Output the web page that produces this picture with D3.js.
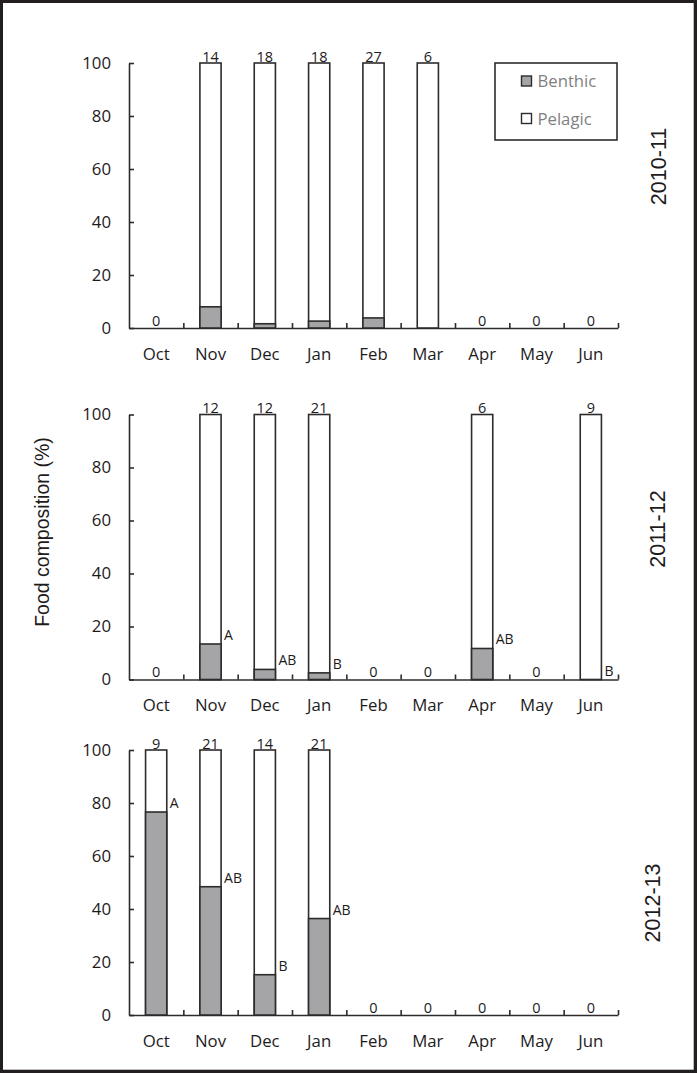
<!DOCTYPE html>
<html>
<head>
<meta charset="utf-8">
<script src="https://cdn.jsdelivr.net/npm/d3@7"></script>
<style>
  html, body { margin: 0; padding: 0; background: #231f20; }
  svg { display: block; }
</style>
</head>
<body>
<svg id="chart" width="697" height="1073"></svg>
<script>
// ---- data ----
const months = ["Oct","Nov","Dec","Jan","Feb","Mar","Apr","May","Jun"];
const seasons = ["2010-11","2011-12","2012-13"];
const yTicks = [0,20,40,60,80,100];
const legendLabels = ["Benthic","Pelagic"];

const benthic2010 = [0, 8, 1.6, 2.6, 3.8, 0, 0, 0, 0];
const n2010       = [0, 14, 18, 18, 27, 6, 0, 0, 0];
const letters2010 = ["", "", "", "", "", "", "", "", ""];

const benthic2011 = [0, 13.4, 3.8, 2.5, 0, 0, 11.7, 0, 0];
const n2011       = [0, 12, 12, 21, 0, 0, 6, 0, 9];
const letters2011 = ["", "A", "AB", "B", "", "", "AB", "", "B"];

const benthic2012 = [76.6, 48.4, 15.2, 36.4, 0, 0, 0, 0, 0];
const n2012       = [9, 21, 14, 21, 0, 0, 0, 0, 0];
const letters2012 = ["A", "AB", "B", "AB", "", "", "", "", ""];

const panelsData = [
  {season: seasons[0], benthic: benthic2010, n: n2010, letters: letters2010},
  {season: seasons[1], benthic: benthic2011, n: n2011, letters: letters2011},
  {season: seasons[2], benthic: benthic2012, n: n2012, letters: letters2012}
];

// ---- layout ----
const W = 697, H = 1073;
const left = 129, right = 618;
const panelTops = [63, 414.5, 750];
const panelH = 265;
const seasonLabelPos = [[666, 166.5], [665, 529], [660, 903]];
const ink = "#2e2b2c";
const txt = "#1e1b1c";
const benthicFill = "#a5a5a8";
const sansUI = "'Open Sans', 'Noto Sans', sans-serif";
const sansArial = "'Liberation Sans', Arial, sans-serif";

const svg = d3.select("#chart");
svg.append("rect").attr("x", 3).attr("y", 3).attr("width", 690).attr("height", 1066).attr("fill", "#fff");
svg.append("line").attr("x1", 693.5).attr("x2", 693.5).attr("y1", 3).attr("y2", 1069.5)
  .attr("stroke", "#bdbdbd").attr("stroke-width", 1);
svg.append("line").attr("x1", 3).attr("x2", 693.5).attr("y1", 1069.5).attr("y2", 1069.5)
  .attr("stroke", "#bdbdbd").attr("stroke-width", 1);

const xBand = d3.scaleBand().domain(months).range([left, right]).padding(0);
const xLin = d3.scaleLinear().domain([0, months.length]).range([left, right]);
const bw = xBand.bandwidth() * 0.39;

panelsData.forEach((p, i) => {
  const top = panelTops[i];
  const y = d3.scaleLinear().domain([0, 100]).range([top + panelH, top]);
  const g = svg.append("g");

  // y axis
  const yAxis = g.append("g").attr("transform", `translate(${left},0)`)
    .call(d3.axisLeft(y).tickValues(yTicks).tickSize(-5).tickSizeOuter(0).tickPadding(18));
  // x axis boundary ticks
  const xAxis = g.append("g").attr("transform", `translate(0,${y(0)})`)
    .call(d3.axisBottom(xLin).tickValues(d3.range(1, months.length + 1)).tickSize(-5).tickSizeOuter(0).tickFormat(""));
  // x category labels
  const xLab = g.append("g").attr("transform", `translate(0,${y(0)})`)
    .call(d3.axisBottom(xBand).tickSize(0).tickPadding(20));
  xLab.select(".domain").remove();

  [yAxis, xAxis].forEach(a => {
    a.selectAll(".domain, .tick line").attr("stroke", ink).attr("stroke-width", 1.6);
  });
  [yAxis, xLab].forEach(a => {
    a.selectAll("text").attr("font-family", sansUI).attr("font-size", 16.8).attr("fill", txt);
  });

  const rows = months.map((m, j) => ({m, b: p.benthic[j], n: p.n[j], letter: p.letters[j]}));
  const present = rows.filter(r => r.n > 0);

  // pelagic (whole bar)
  g.selectAll(".pel").data(present).join("rect")
    .attr("x", d => xBand(d.m) + (xBand.bandwidth() - bw) / 2)
    .attr("width", bw)
    .attr("y", y(100))
    .attr("height", y(0) - y(100))
    .attr("fill", "#fff").attr("stroke", ink).attr("stroke-width", 1.6);
  // benthic
  g.selectAll(".ben").data(present.filter(r => r.b > 0)).join("rect")
    .attr("x", d => xBand(d.m) + (xBand.bandwidth() - bw) / 2)
    .attr("width", bw)
    .attr("y", d => y(d.b))
    .attr("height", d => y(0) - y(d.b))
    .attr("fill", benthicFill).attr("stroke", ink).attr("stroke-width", 1.6);

  // sample sizes
  g.selectAll(".nlab").data(present).join("text")
    .attr("x", d => xBand(d.m) + xBand.bandwidth() / 2)
    .attr("y", y(100) - 1.5)
    .attr("text-anchor", "middle")
    .attr("font-family", sansUI).attr("font-size", 14.5).attr("fill", txt)
    .text(d => d.n);
  // zeros
  g.selectAll(".zlab").data(rows.filter(r => r.n === 0)).join("text")
    .attr("x", d => xBand(d.m) + xBand.bandwidth() / 2)
    .attr("y", y(0) - 2.5)
    .attr("text-anchor", "middle")
    .attr("font-family", sansUI).attr("font-size", 14.5).attr("fill", txt)
    .text(d => d.n);
  // significance letters
  g.selectAll(".let").data(rows.filter(r => r.letter)).join("text")
    .attr("x", d => xBand(d.m) + (xBand.bandwidth() + bw) / 2 + 3)
    .attr("y", d => y(d.b) - 4)
    .attr("font-family", sansUI).attr("font-size", 14).attr("fill", txt)
    .text(d => d.letter);

  // season label
  const [sx, sy] = seasonLabelPos[i];
  g.append("text")
    .attr("transform", `translate(${sx},${sy}) rotate(-90)`)
    .attr("text-anchor", "middle")
    .attr("font-family", sansArial).attr("font-size", 21.5).attr("fill", txt)
    .text(p.season);

  // legend in first panel
  if (i === 0) {
    const lg = g.append("g");
    lg.append("rect").attr("x", 495).attr("y", y(100)).attr("width", 122).attr("height", 77)
      .attr("fill", "#fff").attr("stroke", ink).attr("stroke-width", 1.6);
    const fills = [benthicFill, "#fff"];
    const ys = [81, 118.5];
    legendLabels.forEach((lab, k) => {
      lg.append("rect").attr("x", 521.5).attr("y", ys[k] - 5).attr("width", 10).attr("height", 10)
        .attr("fill", fills[k]).attr("stroke", ink).attr("stroke-width", 1.4);
      lg.append("text").attr("x", 537.5).attr("y", ys[k] + 6)
        .attr("font-family", sansUI).attr("font-size", 16.7).attr("fill", "#7f7f7f")
        .text(lab);
    });
  }
});

// y axis title
svg.append("text")
  .attr("transform", "translate(49,532) rotate(-90)")
  .attr("text-anchor", "middle")
  .attr("font-family", sansArial).attr("font-size", 19.5).attr("fill", txt)
  .text("Food composition (%)");
</script>
</body>
</html>
